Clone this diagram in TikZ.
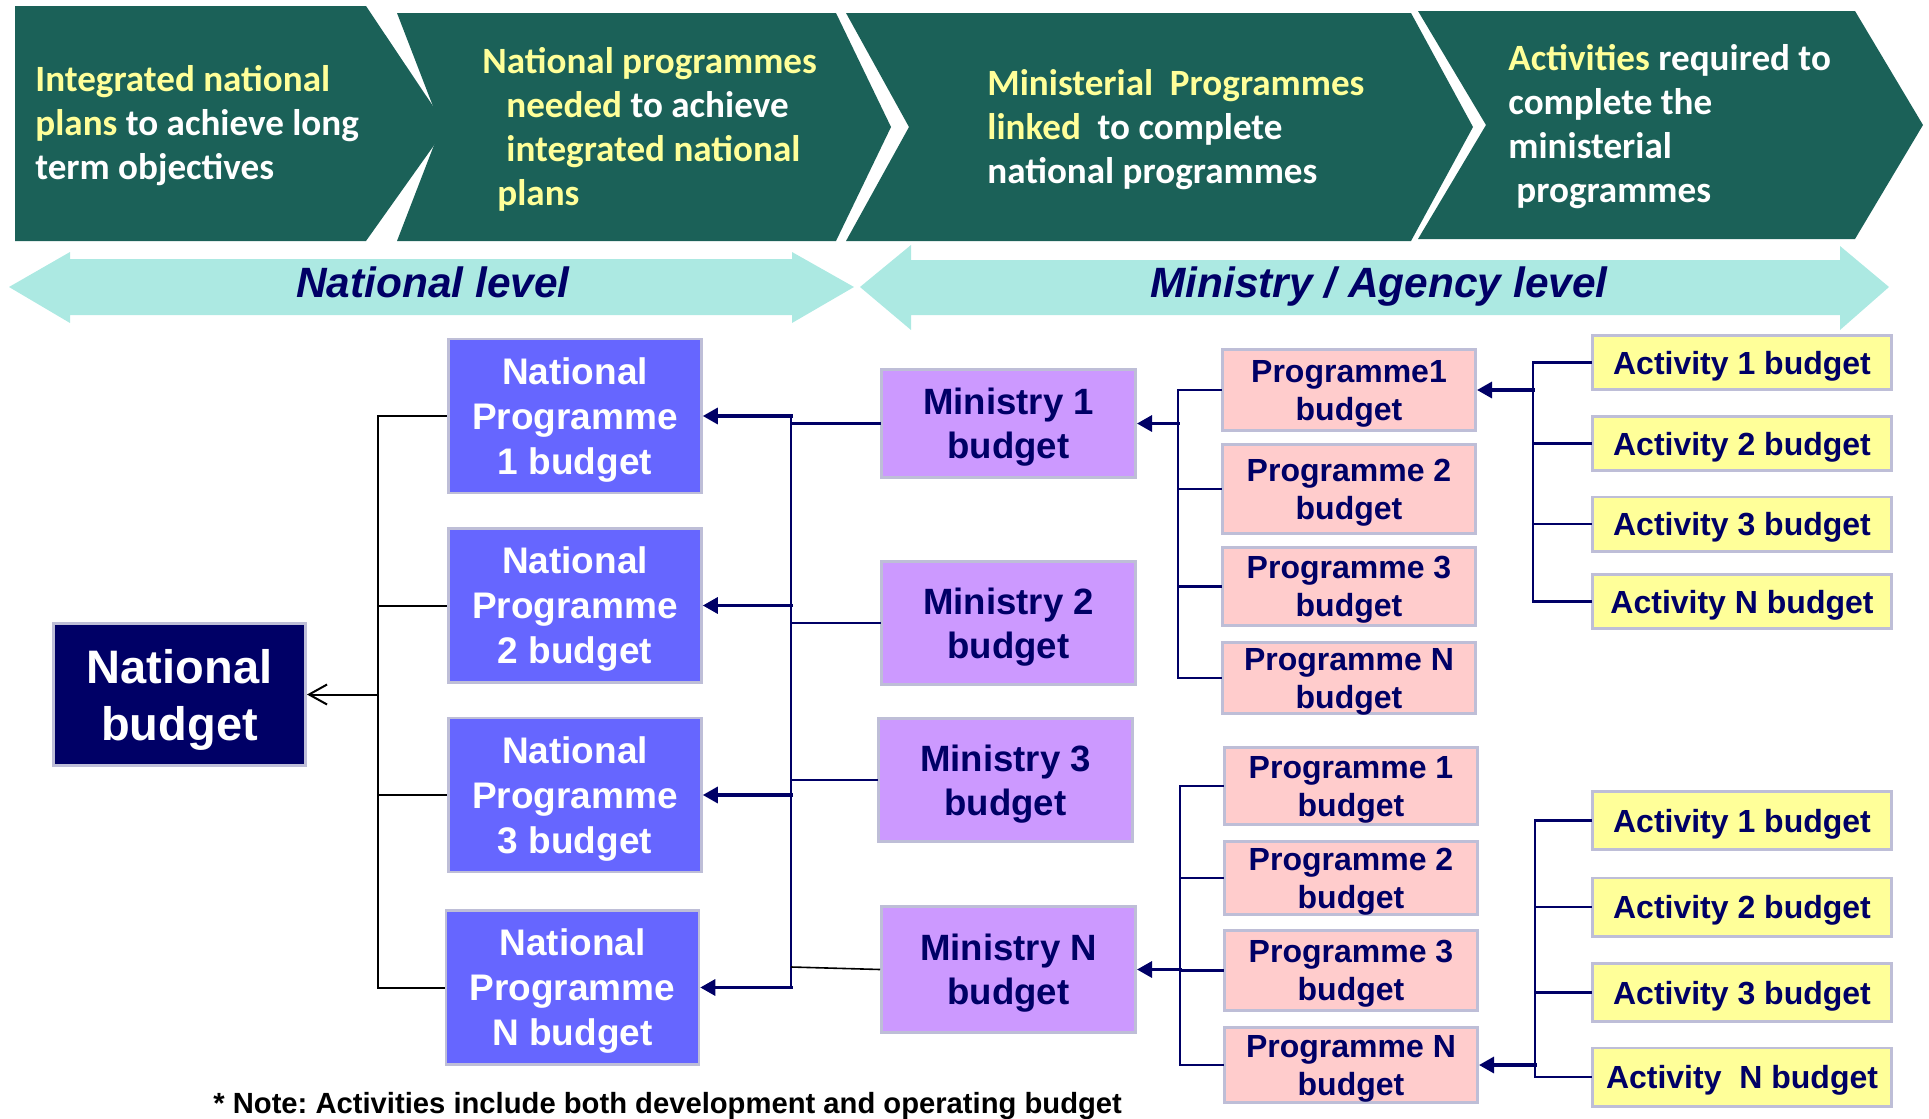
\documentclass[tikz,border=0pt]{standalone}
\usepackage{fontspec}
\setmainfont{Liberation Sans}
\newfontfamily\chevfont{Carlito}
\usetikzlibrary{arrows.meta}

\definecolor{chevgreen}{RGB}{27,97,88}
\definecolor{hiyellow}{RGB}{255,255,153}
\definecolor{levelaqua}{RGB}{172,233,226}
\definecolor{navyblue}{RGB}{0,0,102}
\definecolor{npblue}{RGB}{102,102,255}
\definecolor{minlilac}{RGB}{204,153,255}
\definecolor{progpink}{RGB}{255,204,204}
\definecolor{actyellow}{RGB}{255,255,153}
\definecolor{boxedge}{RGB}{190,190,215}

\newcommand{\yel}[1]{\textcolor{hiyellow}{#1}}
\frenchspacing

\begin{document}
\begin{tikzpicture}[x=0.5pt,y=-0.5pt,
  chevtext/.style={anchor=base west,inner sep=0pt,align=left,text=white,
    font={\chevfont\bfseries\fontsize{18.55}{22}\selectfont}},
  leveltext/.style={anchor=base,inner sep=0pt,text=navyblue,
    font={\bfseries\itshape\fontsize{21.2}{24}\selectfont}},
  box/.style={draw=boxedge,line width=1.3pt,inner sep=0pt,align=center},
  natbox/.style={box,fill=navyblue,text=white,minimum width=126.2pt,minimum height=71.2pt,
    text depth=-0.7pt,font={\bfseries\fontsize{23.5}{28.5}\selectfont}},
  npbox/.style={box,fill=npblue,text=white,minimum width=126.5pt,minimum height=77pt,
    text depth=-1.1pt,font={\bfseries\fontsize{18.5}{22.5}\selectfont}},
  minbox/.style={box,fill=minlilac,text=navyblue,minimum width=127.2pt,
    text depth=-1.2pt,font={\bfseries\fontsize{18.3}{22}\selectfont}},
  progbox/.style={box,fill=progpink,text=navyblue,minimum width=126.7pt,
    text depth=-1.6pt,font={\bfseries\fontsize{16}{19}\selectfont}},
  actbox/.style={box,fill=actyellow,text=navyblue,minimum width=149.7pt,
    text depth=-0.4pt,font={\bfseries\fontsize{16}{19}\selectfont}},
  blackline/.style={draw=black,line width=1pt},
  blackarrow/.style={blackline,-{Straight Barb[length=9pt,width=10pt]}},
  navyline/.style={draw=navyblue,line width=1.4pt,line cap=rect},
  navyarrow/.style={navyline,line width=1.6pt,-{Triangle[length=7.5pt,width=8pt]}}
]
\useasboundingbox (0,0) rectangle (1929,1119);

% chevrons along the top
\fill[chevgreen] (15,6) -- (366,6) -- (447,127) -- (366,241) -- (15,241) -- cycle;
\fill[chevgreen] (397,13) -- (836,13) -- (891,127) -- (836,241) -- (397,241) -- (441,127) -- cycle;
\fill[chevgreen] (846,13) -- (1411,13) -- (1473,127) -- (1411,241) -- (846,241) -- (909,127) -- cycle;
\fill[chevgreen] (1418,11) -- (1855,11) -- (1923,125) -- (1855,239) -- (1418,239) -- (1486,125) -- cycle;

% (base anchor sits on the last line)
\node[chevtext] (plans) at (35,179) {\yel{Integrated national}\\\yel{plans} to achieve long\\term objectives};
\node[chevtext] (natprog) at (482,205) {\yel{National programmes}\\\hspace{12pt}\yel{needed} to achieve\\\hspace{12pt}\yel{integrated national}\\\hspace{7.5pt}\yel{plans}};
\node[chevtext] (minprog) at (987,183) {\yel{Ministerial\ \ Programmes}\\\yel{linked}\ \ to complete\\national programmes};
\node[chevtext] (actreq) at (1508,202) {\yel{Activities} required to\\complete the\\ministerial\\\hspace{4pt}programmes};

% level arrows
\fill[levelaqua] (9,287) -- (70,252) -- (70,259) -- (792,259) -- (792,252) -- (854,287) -- (792,323) -- (792,315) -- (70,315) -- (70,323) -- cycle;
\fill[levelaqua] (860,287) -- (911,245) -- (911,260) -- (1840,260) -- (1840,246) -- (1889,287) -- (1840,330) -- (1840,315) -- (911,315) -- (911,330) -- cycle;
\node[leveltext] (natlevel) at (433,297) {National level};
\node[leveltext] (minlevel) at (1379,297) {Ministry / Agency level};

% budget boxes
\node[natbox] (nb) at (179.5,694.5) {National\\budget};

\node[npbox] (np1) at (575,416) {National\\Programme\\1 budget};
\node[npbox] (np2) at (575,605.5) {National\\Programme\\2 budget};
\node[npbox] (np3) at (575,795) {National\\Programme\\3 budget};
\node[npbox] (npN) at (572.5,987.5) {National\\Programme\\N budget};

\node[minbox,minimum height=54.2pt] (m1) at (1008.5,423.5) {Ministry 1\\budget};
\node[minbox,minimum height=61.7pt] (m2) at (1008.5,623) {Ministry 2\\budget};
\node[minbox,minimum height=61.7pt] (m3) at (1005.5,780) {Ministry 3\\budget};
\node[minbox,minimum height=63.2pt] (mN) at (1008.5,969.5) {Ministry N\\budget};

\node[progbox,minimum height=40.7pt] (p1) at (1349,390) {Programme1\\budget};
\node[progbox,minimum height=44.7pt] (p2) at (1349,489) {Programme 2\\budget};
\node[progbox,minimum height=39.2pt] (p3) at (1349,586.5) {Programme 3\\budget};
\node[progbox,minimum height=35.7pt] (pN) at (1349,678) {Programme N\\budget};

\node[progbox,minimum height=38.7pt] (q1) at (1351,786) {Programme 1\\budget};
\node[progbox,minimum height=36.7pt] (q2) at (1351,878) {Programme 2\\budget};
\node[progbox,minimum height=40.2pt] (q3) at (1351,970.5) {Programme 3\\budget};
\node[progbox,minimum height=37.7pt] (qN) at (1351,1065) {Programme N\\budget};

\node[actbox,minimum height=27.2pt] (a1) at (1742,362.5) {Activity 1 budget};
\node[actbox,minimum height=27.2pt] (a2) at (1742,443.5) {Activity 2 budget};
\node[actbox,minimum height=27.2pt] (a3) at (1742,524) {Activity 3 budget};
\node[actbox,minimum height=27.2pt] (aN) at (1742,601.5) {Activity N budget};

\node[actbox,minimum height=29.2pt] (b1) at (1742,820.5) {Activity 1 budget};
\node[actbox,minimum height=29.2pt] (b2) at (1742,907) {Activity 2 budget};
\node[actbox,minimum height=29.2pt] (b3) at (1742,992.5) {Activity 3 budget};
\node[actbox,minimum height=29.2pt] (bN) at (1742,1077) {Activity\ \ N budget};

\node[anchor=base west,inner sep=0pt,font={\bfseries\fontsize{14.6}{17}\selectfont}] (note) at (213,1113)
  {* Note: Activities include both development and operating budget};

% junction points of the trees
\coordinate (nj) at (378,694.5);
\coordinate (mj) at (791,416);
\coordinate (mNj) at (791,967);
\coordinate (pj) at (1178,423.5);
\coordinate (qj) at (1180,969.5);
\coordinate (aj) at (1533,390);
\coordinate (bj) at (1535,1065);

% national programmes -> national budget
\draw[blackline] (np1.west) -| (nj) |- (npN.west);
\draw[blackline] (np2.west) -- (np2.west -| nj);
\draw[blackline] (np3.west) -- (np3.west -| nj);
\draw[blackarrow] (nj) -- (nb.east);

% ministries -> national programmes
\draw[navyline] (np1.east -| mj) -- (npN.east -| mj);
\foreach \n in {np1,np2,np3,npN}
  \draw[navyarrow] (\n.east -| mj) -- (\n.east);
\draw[navyline] (m1.west) -- (m1.west -| mj);
\draw[navyline] (m2.west) -- (m2.west -| mj);
\draw[navyline] (m3.west) -- (m3.west -| mj);
\draw[black,line width=0.8pt] (mN.west) -- (mNj);

% programmes -> ministries
\draw[navyline] (p1.west) -| (pN.west -| pj) -- (pN.west);
\draw[navyline] (p2.west) -- (p2.west -| pj);
\draw[navyline] (p3.west) -- (p3.west -| pj);
\draw[navyarrow] (pj) -- (m1.east);

\draw[navyline] (q1.west) -| (qN.west -| qj) -- (qN.west);
\draw[navyline] (q2.west) -- (q2.west -| qj);
\draw[navyline] (q3.west) -- (q3.west -| qj);
\draw[navyarrow] (qj) -- (mN.east);

% activities -> programmes
\draw[navyline] (a1.west) -| (aN.west -| aj) -- (aN.west);
\draw[navyline] (a2.west) -- (a2.west -| aj);
\draw[navyline] (a3.west) -- (a3.west -| aj);
\draw[navyarrow] (aj) -- (p1.east);

\draw[navyline] (b1.west) -| (bN.west -| bj) -- (bN.west);
\draw[navyline] (b2.west) -- (b2.west -| bj);
\draw[navyline] (b3.west) -- (b3.west -| bj);
\draw[navyarrow] (bj) -- (qN.east);
\end{tikzpicture}
\end{document}
